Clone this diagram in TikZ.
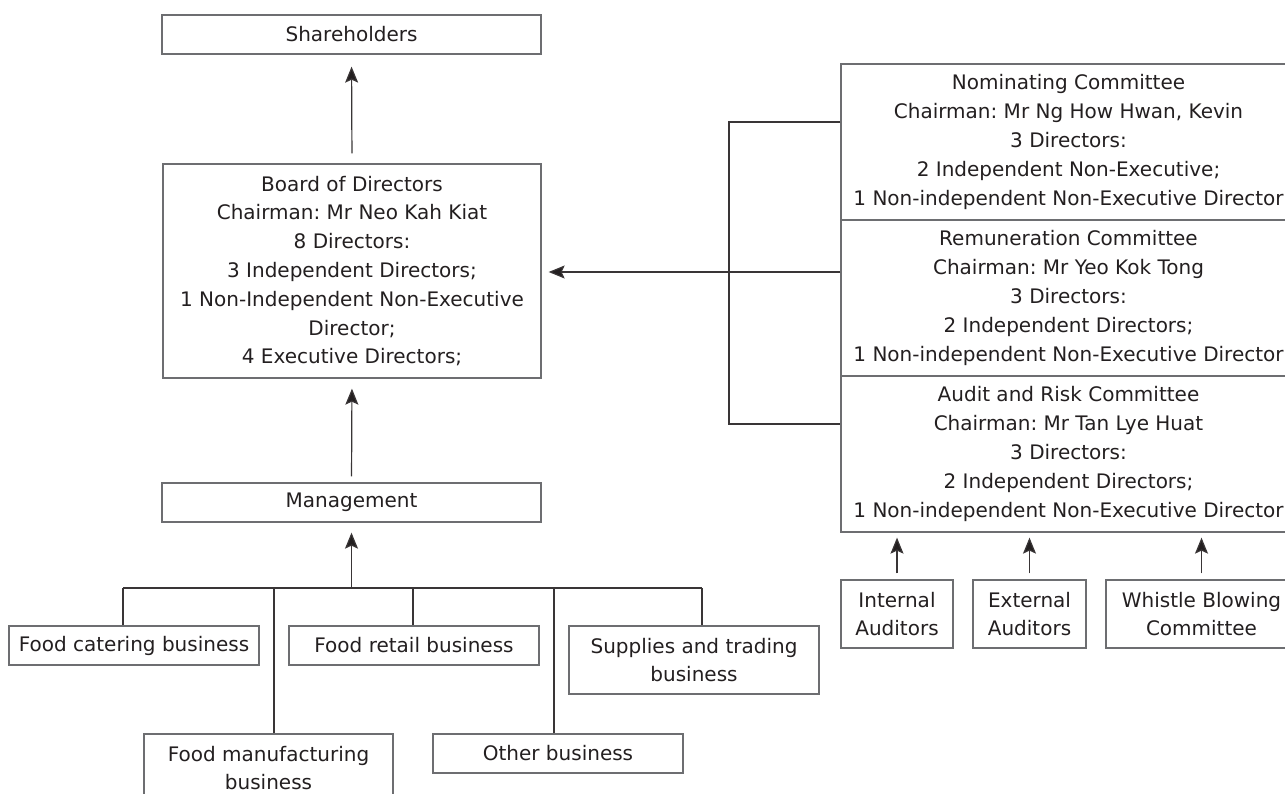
\documentclass[tikz,border=0pt]{standalone}
\usepackage{fontspec}
\setmainfont{DejaVu Sans}
\frenchspacing
\usetikzlibrary{arrows.meta}
\definecolor{boxgray}{HTML}{6D6E71}
\definecolor{inkgray}{HTML}{231F20}
\begin{document}
\begin{tikzpicture}[x=1pt,y=-1pt,
    box/.style={draw=boxgray,line width=1.3pt,align=center,inner sep=0pt,
        text=inkgray,font=\fontsize{20}{28.8}\selectfont},
    link/.style={draw=inkgray!90,line width=1.2pt},
    up/.style={link,-{Stealth[length=16pt,width=13pt,inset=3pt,fill=inkgray]}}]
    \useasboundingbox (0,0) rectangle (1285,794);
    \clip (0,0) rectangle (1285,794);
    \node[box,minimum width=379,minimum height=39] (share) at (351.5,34.5) {Shareholders};
    \node[box,minimum width=378,minimum height=214] (board) at (352,271) {Board of Directors\\Chairman: Mr Neo Kah Kiat\\8 Directors:\\3 Independent Directors;\\1 Non-Independent Non-Executive\\Director;\\4 Executive Directors;};
    \node[box,minimum width=379,minimum height=39] (mgmt) at (351.5,502.5) {Management};
    \node[box,minimum width=250,minimum height=39] (cater) at (134,645.5) {Food catering business};
    \node[box,minimum width=250,minimum height=39] (retail) at (414,645.5) {Food retail business};
    \node[box,minimum width=250,minimum height=68] (supply) at (694,660) {Supplies and trading\\business};
    \node[box,minimum width=249,minimum height=68] (manuf) at (268.5,768) {Food manufacturing\\business};
    \node[box,minimum width=250,minimum height=39] (other) at (558,753.5) {Other business};
    \node[box,minimum width=455,minimum height=156] (nom) at (1068.5,142) {Nominating Committee\\Chairman: Mr Ng How Hwan, Kevin\\3 Directors:\\2 Independent Non-Executive;\\1 Non-independent Non-Executive Director};
    \node[box,minimum width=455,minimum height=156] (rem) at (1068.5,298) {Remuneration Committee\\Chairman: Mr Yeo Kok Tong\\3 Directors:\\2 Independent Directors;\\1 Non-independent Non-Executive Director};
    \node[box,minimum width=455,minimum height=156] (aud) at (1068.5,454) {Audit and Risk Committee\\Chairman: Mr Tan Lye Huat\\3 Directors:\\2 Independent Directors;\\1 Non-independent Non-Executive Director};
    \node[box,minimum width=112,minimum height=68] (inta) at (897,614) {Internal\\Auditors};
    \node[box,minimum width=113,minimum height=68] (exta) at (1029.5,614) {External\\Auditors};
    \node[box,minimum width=191,minimum height=68] (whist) at (1201.5,614) {Whistle Blowing\\Committee};
    \coordinate (bus) at (351.5,588);
    \coordinate (d1) at (123,588);
    \coordinate (d2) at (274,588);
    \coordinate (d3) at (413,588);
    \coordinate (d4) at (554,588);
    \coordinate (d5) at (702,588);
    \coordinate (b1) at (729,122);
    \coordinate (b2) at (729,272);
    \coordinate (b3) at (729,424);
    \draw[up,shorten <=10pt,shorten >=12pt] (board.north) -- (share.south);
    \draw[up,shorten <=6pt,shorten >=10pt] (mgmt.north) -- (board.south);
    \draw[up,shorten >=10pt] (bus) -- (mgmt.south);
    \draw[link] (d1) -- (d5);
    \draw[link] (d1) -- (d1 |- cater.north);
    \draw[link] (d2) -- (d2 |- manuf.north);
    \draw[link] (d3) -- (d3 |- retail.north);
    \draw[link] (d4) -- (d4 |- other.north);
    \draw[link] (d5) -- (d5 |- supply.north);
    \draw[link] (b1 -| nom.west) -- (b1) -- (b3) -- (b3 -| aud.west);
    \draw[up,shorten >=7pt] (b2 -| rem.west) -- (b2 -| board.east);
    \draw[up,shorten <=6pt,shorten >=5pt] (inta.north) -- (inta.north |- aud.south);
    \draw[up,shorten <=6pt,shorten >=5pt] (exta.north) -- (exta.north |- aud.south);
    \draw[up,shorten <=6pt,shorten >=5pt] (whist.north) -- (whist.north |- aud.south);
\end{tikzpicture}
\end{document}
